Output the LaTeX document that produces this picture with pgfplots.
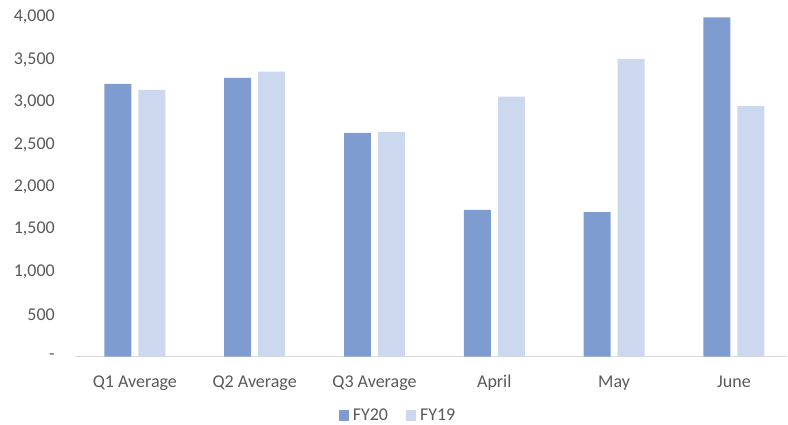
\documentclass[border=0pt]{standalone}
\usepackage{pgfplots}
\pgfplotsset{compat=1.18}
\usepackage{fontspec}
\setmainfont{Carlito}
\definecolor{fy20}{HTML}{7F9CD0}
\definecolor{fy19}{HTML}{CCD8EE}
\definecolor{txt}{HTML}{595959}
\definecolor{axl}{HTML}{D9D9D9}
\pgfplotsset{sqleg/.style={legend image code/.code={\fill[##1] (0bp,-5.5bp) rectangle (10bp,5.5bp);}}}
\begin{document}
\begin{tikzpicture}
\fontsize{18bp}{21bp}\selectfont
\begin{axis}[
  name=ax,
  scale only axis,
  width=713bp, height=340bp,
  ymin=0, ymax=4000,
  xmin=-0.5, xmax=5.446,
  ybar=7bp, bar width=27bp,
  axis x line*=bottom,
  axis y line*=left,
  x axis line style={axl, line width=1.3bp, -},
  y axis line style={draw=none},
  major tick length=0pt,
  xtick=data,
  xticklabels={Q1 Average, Q2 Average, Q3 Average, April, May, June},
  ytick={0,500,1000,1500,2000,2500,3000,3500,4000},
  yticklabels={-, 500, {1,000}, {1,500}, {2,000}, {2,500}, {3,000}, {3,500}, {4,000}},
  xticklabel style={font=\fontsize{18bp}{21bp}\selectfont, text=txt, anchor=base, inner sep=0pt, yshift=-31bp},
  yticklabel style={font=\fontsize{18bp}{21bp}\selectfont, text=txt, anchor=east, inner sep=0pt, xshift=-20bp},
  legend columns=2,
  legend style={draw=none, fill=none, at={(0.455,-0.1735)}, anchor=center,
    font=\fontsize{18bp}{21bp}\selectfont, text=txt,
    /tikz/every even column/.append style={column sep=14bp},
    nodes={inner xsep=4bp, inner ysep=0pt}},
  clip=false,
]
\addplot[fill=fy20, draw=none, sqleg] coordinates {(0,3212) (1,3282) (2,2635) (3,1729) (4,1702) (5,3996)};
\addplot[fill=fy19, draw=none, sqleg] coordinates {(0,3141) (1,3357) (2,2647) (3,3063) (4,3506) (5,2949)};
\legend{FY20, FY19}
\end{axis}
\path[use as bounding box] ([xshift=-75bp,yshift=-67bp]ax.south west) rectangle ([yshift=17bp]ax.north east);
\end{tikzpicture}
\end{document}
